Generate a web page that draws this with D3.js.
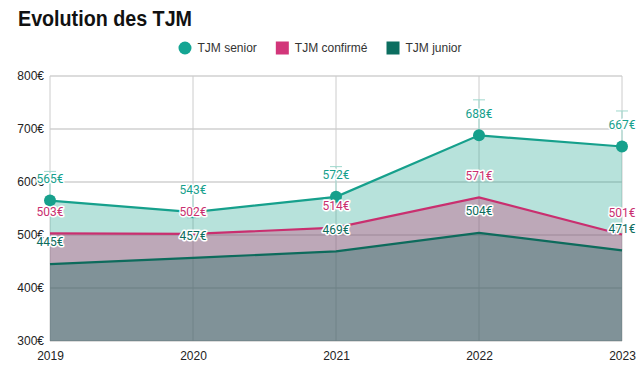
<!DOCTYPE html>
<html>
<head>
<meta charset="utf-8">
<script src="https://cdn.jsdelivr.net/npm/d3@7"></script>
<style>
  body { margin: 0; background: #fff; }
  svg { display: block; }
</style>
</head>
<body>
<svg id="chart" width="644" height="376"></svg>
<script>
const years = ["2019", "2020", "2021", "2022", "2023"];
const senior = [565, 543, 572, 688, 667];
const confirme = [503, 502, 514, 571, 501];
const junior = [445, 457, 469, 504, 471];
// faint range bars on the senior series
const seniorLow = [565, 532, 572, 688, 667];
const seniorHigh = [620, 594, 629, 755, 734];
const yTicks = [300, 400, 500, 600, 700, 800];
const seriesNames = ["TJM senior", "TJM confirmé", "TJM junior"];

const colors = ["#16a08c", "#c92f6f", "#0d6b5c"];
const opac = [0.31, 0.32, 0.35];
const series = [senior, confirme, junior];

const svg = d3.select("svg#chart");
const bounds = { minX: 50, maxX: 622, minY: 76, maxY: 341 };

const x = d3.scalePoint().domain(years).range([bounds.minX, bounds.maxX]);
const y = d3.scaleLinear().domain([300, 800]).range([bounds.maxY, bounds.minY]);

// title (condensed look, like the original)
svg.append("text")
    .attr("x", 18).attr("y", 26)
    .attr("font-family", "'Liberation Sans', Arial, sans-serif")
    .attr("font-weight", "bold")
    .attr("font-size", 22)
    .attr("textLength", 174)
    .attr("lengthAdjust", "spacingAndGlyphs")
    .attr("fill", "#111")
    .text("Evolution des TJM");

// legend, laid out from measured text widths
const legend = svg.append("g").attr("class", "legend");
let lx = 0;
seriesNames.forEach((name, i) => {
    const g = legend.append("g").attr("transform", `translate(${lx},0)`);
    if (i === 0) {
        g.append("circle").attr("cx", 6.5).attr("cy", 0).attr("r", 6.5).attr("fill", "#14a593");
    } else {
        g.append("rect").attr("x", 0).attr("y", -6.5).attr("width", 13).attr("height", 13)
            .attr("fill", i === 1 ? "#d2367a" : "#0c6e60");
    }
    const t = g.append("text")
        .attr("x", 19).attr("y", 0).attr("dy", "0.35em")
        .attr("font-family", "'Liberation Sans', Arial, sans-serif")
        .attr("font-size", 12)
        .attr("fill", "#333")
        .text(name);
    lx += 19 + t.node().getComputedTextLength() + 19;
});
lx -= 19;
legend.attr("transform", `translate(${320 - lx / 2},48)`);

// grid
const grid = svg.append("g").attr("class", "grid");
grid.selectAll("line.h").data(yTicks).join("line")
    .attr("class", "h")
    .attr("x1", bounds.minX).attr("x2", bounds.maxX)
    .attr("y1", d => y(d)).attr("y2", d => y(d))
    .attr("stroke", "#dcdcdc").attr("stroke-width", 2);
grid.selectAll("line.v").data(years).join("line")
    .attr("class", "v")
    .attr("x1", d => x(d)).attr("x2", d => x(d))
    .attr("y1", bounds.minY).attr("y2", bounds.maxY)
    .attr("stroke", "#cccccc").attr("stroke-width", 1);

// areas down to the baseline, drawn in order senior -> junior
const area = d3.area()
    .x((d, i) => x(years[i]))
    .y0(y(300))
    .y1(d => y(d));
const line = d3.line()
    .x((d, i) => x(years[i]))
    .y(d => y(d));

series.forEach((vals, i) => {
    svg.append("path")
        .attr("d", area(vals))
        .attr("fill", colors[i])
        .attr("fill-opacity", opac[i]);
});

// range bars
const eb = svg.append("g").attr("stroke", "#9fd8cd").attr("stroke-width", 1);
years.forEach((yr, i) => {
    const cx = x(yr);
    eb.append("line").attr("x1", cx).attr("x2", cx)
        .attr("y1", y(seniorLow[i])).attr("y2", y(seniorHigh[i]));
    eb.append("line").attr("x1", cx - 6).attr("x2", cx + 6)
        .attr("y1", y(seniorHigh[i])).attr("y2", y(seniorHigh[i]));
    if (seniorLow[i] !== senior[i]) {
        eb.append("line").attr("x1", cx - 6).attr("x2", cx + 6)
            .attr("y1", y(seniorLow[i])).attr("y2", y(seniorLow[i]));
    }
});

// lines
series.slice().reverse().forEach((vals, k) => {
    const i = series.length - 1 - k;
    svg.append("path")
        .attr("d", line(vals))
        .attr("fill", "none")
        .attr("stroke", colors[i])
        .attr("stroke-width", 2.2);
});

// senior markers
svg.append("g").selectAll("circle").data(senior).join("circle")
    .attr("cx", (d, i) => x(years[i]))
    .attr("cy", d => y(d))
    .attr("r", 6)
    .attr("fill", colors[0]);

// axes
const yAxis = svg.append("g")
    .attr("transform", `translate(${bounds.minX},0)`)
    .call(d3.axisLeft(y).tickValues(yTicks).tickFormat(d => d + "€").tickSize(0).tickPadding(6));
const xAxis = svg.append("g")
    .attr("transform", `translate(0,${bounds.maxY})`)
    .call(d3.axisBottom(x).tickSize(0).tickPadding(10));
[yAxis, xAxis].forEach(a => {
    a.select(".domain").remove();
    a.selectAll("text")
        .attr("font-family", "'Liberation Sans', Arial, sans-serif")
        .attr("font-size", 12)
        .attr("fill", "#222");
});

// value labels
const labels = svg.append("g")
    .attr("font-family", "Roboto, sans-serif")
    .attr("font-size", 12)
    .attr("text-anchor", "middle");
[2, 1, 0].forEach(i => {
    labels.append("g").selectAll("text").data(series[i]).join("text")
        .attr("x", (d, j) => x(years[j]))
        .attr("y", d => y(d) - 22)
        .attr("dy", "0.35em")
        .attr("fill", colors[i])
        .attr("stroke", "#fff")
        .attr("stroke-width", 3)
        .attr("stroke-linejoin", "round")
        .attr("paint-order", "stroke")
        .text(d => d + "€");
});
</script>
</body>
</html>
